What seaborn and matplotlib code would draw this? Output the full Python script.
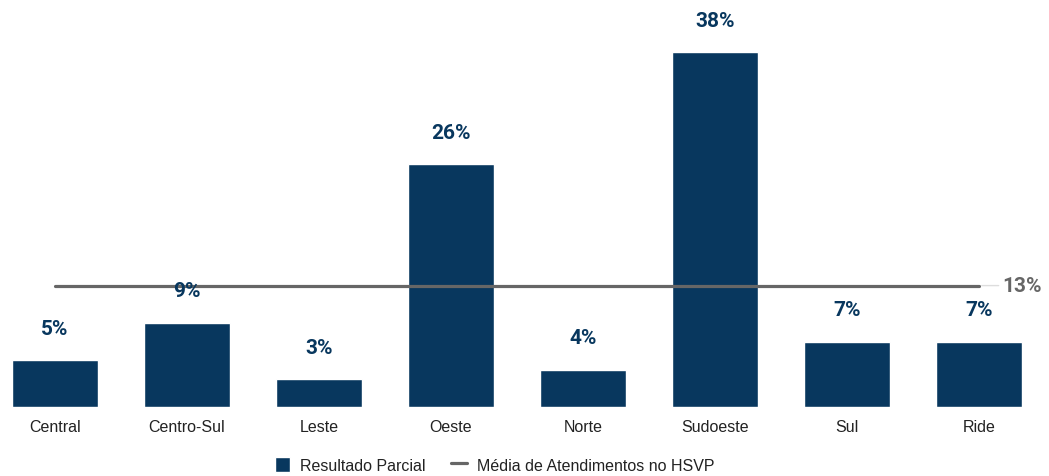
import pandas as pd
import matplotlib.pyplot as plt
import seaborn as sns

# Dados
regioes = ["Central", "Centro-Sul", "Leste", "Oeste", "Norte", "Sudoeste", "Sul", "Ride"]
resultado_parcial = [5, 9, 3, 26, 4, 38, 7, 7]
media_hsvp = [13, 13, 13, 13, 13, 13, 13, 13]

azul = "#08375E"
cinza = "#666666"

df = pd.DataFrame({"regiao": regioes, "resultado": resultado_parcial, "media": media_hsvp})

sns.set_style("white")
plt.rcParams["font.family"] = ["Liberation Sans", "DejaVu Sans"]

fig = plt.figure(figsize=(10.49, 4.77), dpi=100)
ax = fig.add_axes([0.0021, 0.1447, 0.9815, 0.783])

sns.barplot(data=df, x="regiao", y="resultado", color=azul, width=0.65,
            saturation=1, ax=ax, label="Resultado Parcial", zorder=2)
sns.lineplot(data=df, x="regiao", y="media", color=cinza, linewidth=2.3,
             ax=ax, label="Média de Atendimentos no HSVP", zorder=3)

# rótulos das barras
for i, v in enumerate(resultado_parcial):
    ax.annotate(f"{v}%", (i, v), xytext=(0, 23), textcoords="offset points",
                ha="center", va="center", fontsize=15, fontweight="bold",
                color=azul, family=["Roboto", "DejaVu Sans"], zorder=4)

# rótulo da média
ultimo = len(regioes) - 1
ax.annotate("", xy=(ultimo + 0.17, media_hsvp[-1]), xytext=(ultimo, media_hsvp[-1]),
            arrowprops=dict(arrowstyle="-", color="#dddddd", lw=1))
ax.annotate(f"{media_hsvp[-1]}%", (ultimo, media_hsvp[-1]), xytext=(31, 0),
            textcoords="offset points", ha="center", va="center",
            fontsize=15, fontweight="bold", color=cinza,
            family=["Roboto", "DejaVu Sans"], annotation_clip=False)

ax.set_xlim(-0.4, 7.4)
ax.set_ylim(0, 40)
ax.set_xlabel("")
ax.set_ylabel("")
ax.set_yticks([])
ax.tick_params(axis="x", length=0, pad=9, labelsize=11.5, labelcolor="#222222")
sns.despine(ax=ax, left=True, bottom=True)

handles, labels = ax.get_legend_handles_labels()
ordem = [labels.index("Resultado Parcial"), labels.index("Média de Atendimentos no HSVP")]
ax.legend([handles[k] for k in ordem], [labels[k] for k in ordem],
          loc="center", bbox_to_anchor=(0.478, -0.155), ncol=2, frameon=False,
          fontsize=11.5, handlelength=1.0, handleheight=1.1, columnspacing=1.6,
          handletextpad=0.6, labelcolor="#222222")

fig.savefig("out.png", dpi=100)
